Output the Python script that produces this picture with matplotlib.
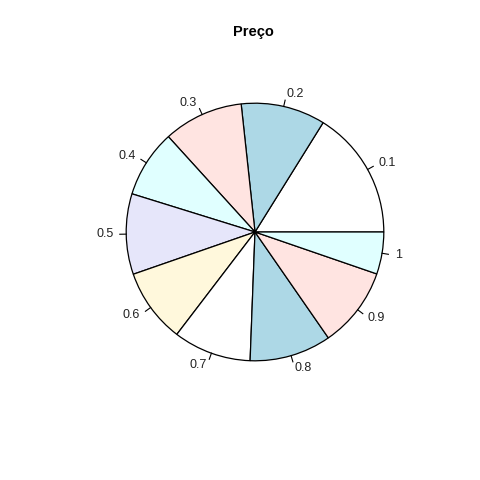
import numpy as np
import matplotlib
matplotlib.use("Agg")
import matplotlib.pyplot as plt

plt.rcParams['font.family'] = ['Liberation Sans', 'DejaVu Sans']

# slice sizes (degrees), labels and R's default pie colours
labels = ["0.1", "0.2", "0.3", "0.4", "0.5", "0.6", "0.7", "0.8", "0.9", "1"]
values = [58.1, 38.1, 36.1, 30.5, 36.4, 33.5, 35.2, 36.9, 36.3, 19.0]
colors = ["white", "#ADD8E6", "#FFE4E1", "#E0FFFF", "#E6E6FA", "#FFF8DC",
          "white", "#ADD8E6", "#FFE4E1", "#E0FFFF"]

fig = plt.figure(figsize=(4.8, 4.8), dpi=100)
ax = fig.add_axes([94 / 480, 87 / 480, 322 / 480, 322 / 480])

R = 0.8
wedges, texts = ax.pie(values, labels=labels, colors=colors, startangle=0,
                       counterclock=True, radius=R, labeldistance=1.1,
                       wedgeprops=dict(edgecolor="black", linewidth=0.9),
                       textprops=dict(fontsize=9, color="#222222"))

# small tick marks at the middle of each slice, like R's pie()
for w in wedges:
    mid = np.radians((w.theta1 + w.theta2) / 2)
    ax.plot([R * np.cos(mid), 1.05 * R * np.cos(mid)],
            [R * np.sin(mid), 1.05 * R * np.sin(mid)], color="black", lw=0.8)

ax.set_xlim(-1, 1)
ax.set_ylim(-1, 1)
ax.set_aspect("equal")
ax.axis("off")

fig.text(253 / 480, 1 - 32 / 480, "Preço", ha="center", va="center",
         fontsize=10.5, fontweight="bold")

fig.savefig("out.png", dpi=100, facecolor="white")
